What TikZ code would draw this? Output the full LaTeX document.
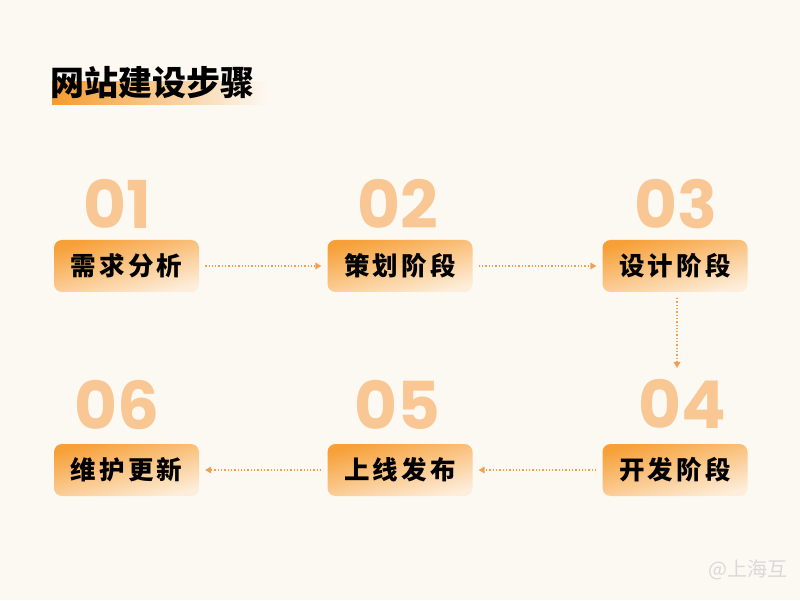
\documentclass[tikz,border=0pt]{standalone}
\usepackage{fontspec}
\newfontfamily\cjk{Noto Sans CJK SC}
\newfontfamily\cjkbox{Noto Sans CJK SC}[LetterSpace=12]
\newfontfamily\numfont{Poppins}
\usetikzlibrary{arrows.meta}
\definecolor{bg}{HTML}{FCF9F3}
\definecolor{numc}{HTML}{F9C793}
\definecolor{boxtop}{HTML}{F7A038}
\definecolor{boxbot}{HTML}{FDEDD9}
\definecolor{arr}{HTML}{F0A050}
\definecolor{hl}{HTML}{F59B2E}
\tikzset{
  stepbox/.style={rounded corners=8pt, minimum width=145pt, minimum height=52pt,
    top color=boxtop, bottom color=boxbot, shading angle=15,
    font=\cjkbox\bfseries\fontsize{25.5}{26}\selectfont, text=black, inner sep=0pt},
  numlabel/.style={font=\numfont\bfseries\fontsize{66}{66}\selectfont, text=numc, inner sep=0pt},
  flow/.style={draw=arr, line width=1.3pt, dotted, -{Triangle[length=6pt,width=7pt,fill=arr,line width=0pt]}}
}
\begin{document}
\begin{tikzpicture}[x=1pt,y=1pt]
\fill[bg] (0,0) rectangle (800,600);
\useasboundingbox (0,0) rectangle (800,600);
% title highlight
\shade[left color=hl, right color=bg] (52,495) rectangle (268,518);
\node[anchor=west, font=\cjk\bfseries\fontsize{34}{34}\selectfont, inner sep=0pt] (title) at (50,517) {网站建设步骤};
% numbers
\node[numlabel] (n1) at (117,396) {01};
\node[numlabel] (n2) at (398,396) {02};
\node[numlabel] (n3) at (676,396) {03};
\node[numlabel] (n4) at (682,196) {04};
\node[numlabel] (n5) at (397,195) {05};
\node[numlabel] (n6) at (117,195) {06};
% boxes
\node[stepbox] (b1) at (126.5,334) {需求分析};
\node[stepbox] (b2) at (400,334) {策划阶段};
\node[stepbox] (b3) at (675,334) {设计阶段};
\node[stepbox] (b4) at (675,130) {开发阶段};
\node[stepbox] (b5) at (400,130) {上线发布};
\node[stepbox] (b6) at (126.5,130) {维护更新};
% connectors
\draw[flow] ([xshift=6pt]b1.east) -- ([xshift=-6pt]b2.west);
\draw[flow] ([xshift=6pt]b2.east) -- ([xshift=-6pt]b3.west);
\coordinate (c4) at (677,232);
\draw[flow] ([xshift=2pt,yshift=-6pt]b3.south) -- (c4);
\draw[flow] ([xshift=-6pt]b4.west) -- ([xshift=6pt]b5.east);
\draw[flow] ([xshift=-6pt]b5.west) -- ([xshift=6pt]b6.east);
% watermark
\begin{scope}
\clip (0,0) rectangle (800,600);
\node[anchor=west, font=\cjk\fontsize{20}{20}\selectfont, text=black!15, inner sep=0pt] (wm) at (708,30) {@上海互};
\end{scope}
\end{tikzpicture}
\end{document}
